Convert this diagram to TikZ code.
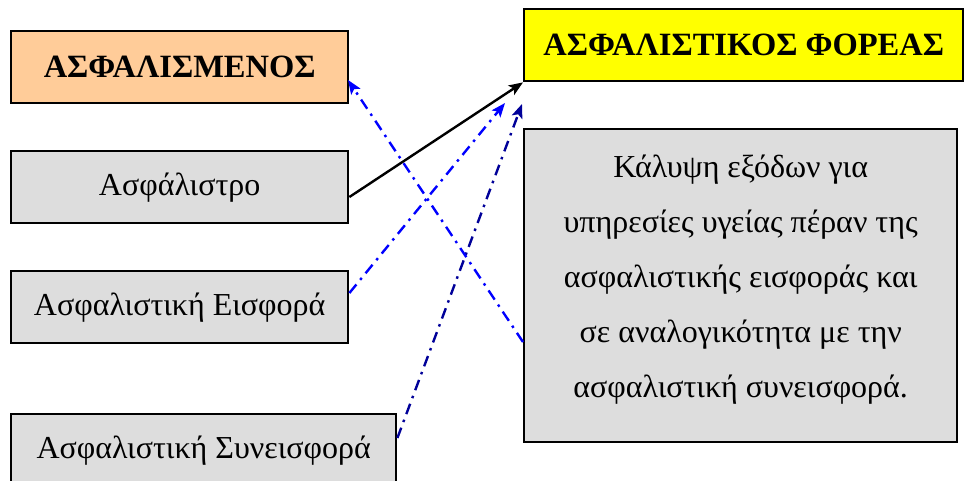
\documentclass[tikz,border=0pt]{standalone}
\usepackage{fontspec}
\setmainfont{Liberation Serif}
\usetikzlibrary{arrows.meta}
\definecolor{peach}{HTML}{FFCC99}
\definecolor{boxgray}{HTML}{DDDDDD}
\definecolor{ylw}{HTML}{FFFF00}
\definecolor{lblue}{HTML}{0000FF}
\definecolor{navy}{HTML}{000099}
\tikzset{
  box/.style={draw=black, line width=2.4pt, inner sep=0pt, anchor=north west},
  titlebox/.style={box, font=\fontsize{32.5}{38}\selectfont\bfseries},
  plainbox/.style={box, fill=boxgray, font=\fontsize{32}{38}\selectfont},
  dashdot/.style={line width=2.4pt, dash pattern=on 11pt off 6pt on 2.5pt off 6pt},
  tipA/.style={-{Stealth[length=14pt,width=11pt,inset=3pt]}},
}
\begin{document}
\begin{tikzpicture}[x=1pt,y=-1pt]
\useasboundingbox (0,0) rectangle (964,481);
\node[titlebox, fill=peach, minimum width=337pt, minimum height=72pt] (asf) at (10,30) {ΑΣΦΑΛΙΣΜΕΝΟΣ};
\node[titlebox, fill=ylw, minimum width=439pt, minimum height=72pt] (foreas) at (523,8) {ΑΣΦΑΛΙΣΤΙΚΟΣ ΦΟΡΕΑΣ};
\node[plainbox, minimum width=337pt, minimum height=72pt] (asfalistro) at (10,150) {Ασφάλιστρο};
\node[plainbox, minimum width=337pt, minimum height=72pt] (eisfora) at (10,270) {Ασφαλιστική Εισφορά};
\node[plainbox, minimum width=385pt, minimum height=72pt] (syneisfora) at (10,413) {Ασφαλιστική Συνεισφορά};
\node[plainbox, minimum width=433pt, minimum height=313pt] (kalypsi) at (523,128) {};
\node[align=center, inner sep=0pt, font=\fontsize{32}{55}\selectfont] (kalypsitext) at ([yshift=6pt]kalypsi.center)
  {Κάλυψη εξόδων για\\υπηρεσίες υγείας πέραν της\\ασφαλιστικής εισφοράς και\\σε αναλογικότητα με την\\ασφαλιστική συνεισφορά.};
\coordinate (tipE) at (505,103);
\coordinate (tipS) at (522,104);
\coordinate (tipK) at (348,80);
\draw[line width=2.4pt, -{Stealth[length=14pt,width=11pt,inset=3pt]}] (asfalistro.east |- 0,197) -- (foreas.south west);
\draw[dashdot, lblue, tipA] (eisfora.east |- 0,293) -- (tipE);
\draw[dashdot, navy, tipA] (syneisfora.east |- 0,438) -- (tipS);
\draw[dashdot, lblue, tipA] (kalypsi.west |- 0,342) -- (tipK);
\end{tikzpicture}
\end{document}
